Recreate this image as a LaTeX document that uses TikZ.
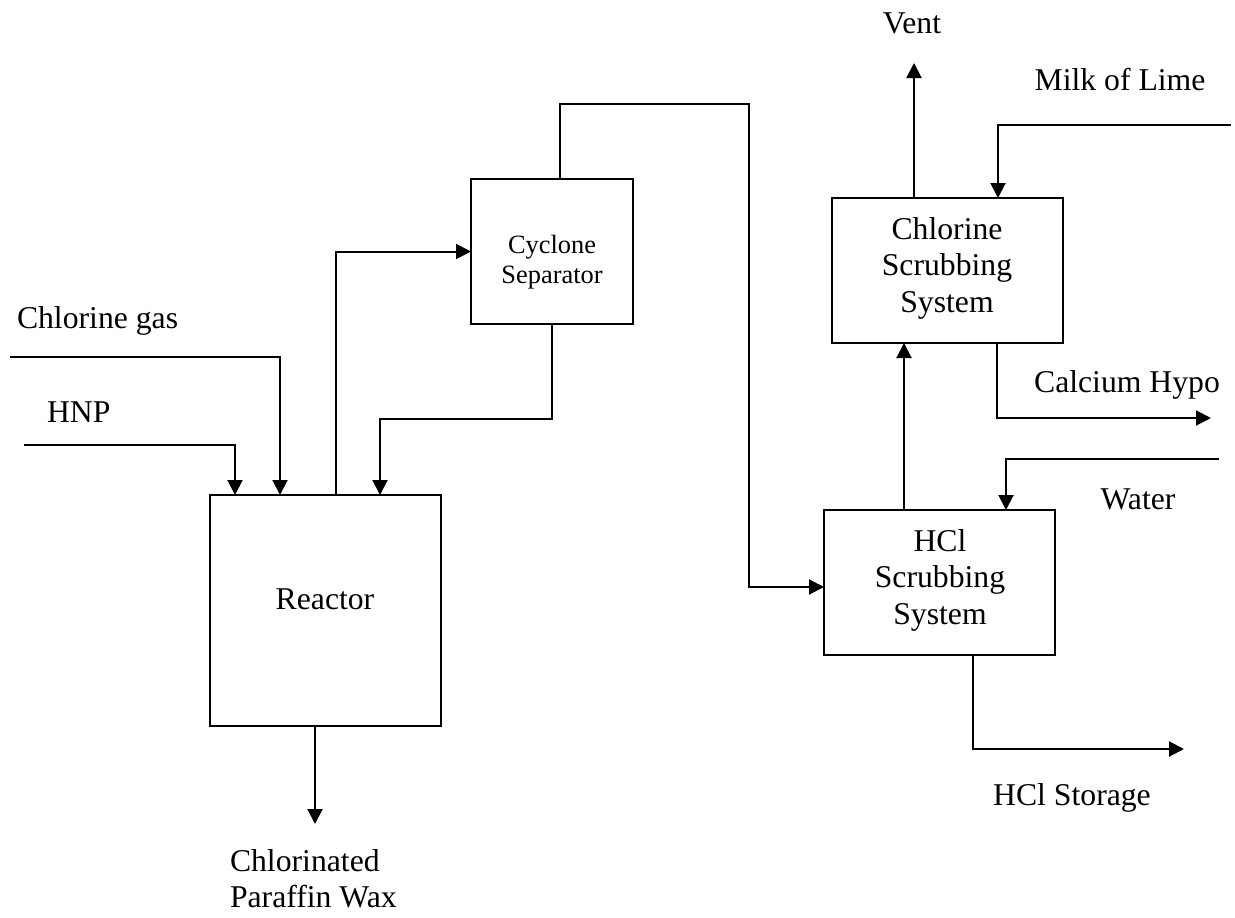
\documentclass[tikz,border=0pt]{standalone}
\usepackage{fontspec}
\setmainfont{Liberation Serif}
\usetikzlibrary{arrows.meta}
\begin{document}
\begin{tikzpicture}[x=1pt,y=-1pt,
  line width=2pt,
  box/.style={draw,rectangle,inner sep=0pt,outer sep=0pt,anchor=north west},
  lbl/.style={inner sep=0pt,anchor=base,font=\fontsize{31.7}{36.5}\selectfont},
  lblw/.style={inner sep=0pt,anchor=base west,font=\fontsize{31.7}{36.5}\selectfont},
  slbl/.style={inner sep=0pt,anchor=base,font=\fontsize{26.4}{28}\selectfont},
  arr/.style={-{Triangle[length=15pt,width=15pt]}}]
\useasboundingbox (0,0) rectangle (1235,918);

% boxes
\node[box,minimum width=231pt,minimum height=231pt] (reactor) at (210,495) {};
\node[box,minimum width=162pt,minimum height=145pt] (cyclone) at (471,179) {};
\node[box,minimum width=231pt,minimum height=145pt] (cl) at (832,198) {};
\node[box,minimum width=231pt,minimum height=145pt] (hcl) at (824,510) {};

% box texts
\node[lbl] (treactor) at (325,609) {Reactor};
\node[slbl] (tcyc1) at (552,253) {Cyclone};
\node[slbl] (tcyc2) at (552,283) {Separator};
\node[lbl] (tcl1) at (947,239) {Chlorine};
\node[lbl] (tcl2) at (947,275) {Scrubbing};
\node[lbl] (tcl3) at (947,312) {System};
\node[lbl] (thcl1) at (940,551) {HCl};
\node[lbl] (thcl2) at (940,587) {Scrubbing};
\node[lbl] (thcl3) at (940,624) {System};

% stream labels
\node[lblw] (tcg) at (16,328) {Chlorine gas};
\node[lblw] (thnp) at (46,422) {HNP};
\node[lbl] (tvent) at (912,33) {Vent};
\node[lbl] (tmilk) at (1120,90) {Milk of Lime};
\node[lbl] (tca) at (1127,392) {Calcium Hypo};
\node[lbl] (twater) at (1138,509) {Water};
\node[lbl] (tstore) at (1072,805) {HCl Storage};
\node[lblw] (tcpw1) at (229,871) {Chlorinated};
\node[lblw] (tcpw2) at (229,907) {Paraffin Wax};

% free ends
\coordinate (cgin) at (10,357);
\coordinate (hnpin) at (24,445);
\coordinate (cpwout) at (315,824);
\coordinate (ventout) at (914,63);
\coordinate (milkin) at (1231,125);
\coordinate (caout) at (1211,418);
\coordinate (waterin) at (1219,459);
\coordinate (storeout) at (1184,749);
\coordinate (topbend) at (749,104);
\coordinate (lowbend) at (749,587);

% connectors
\draw[arr] (hnpin) -| ([xshift=25pt]reactor.north west);
\draw[arr] (cgin) -| ([xshift=70pt]reactor.north west);
\draw[arr] ([xshift=126pt]reactor.north west) |- (cyclone.west);
\draw[arr] (cyclone.south) -- ++(0,95) -| ([xshift=170pt]reactor.north west);
\draw[arr] ([xshift=89pt]cyclone.north west) |- (topbend) -- (lowbend) -- (lowbend -| hcl.west);
\draw[arr] (reactor.south -| cpwout) -- (cpwout);
\draw[arr] ([xshift=80pt]hcl.north west) -- ([xshift=80pt]hcl.north west |- cl.south);
\draw[arr] (cl.north -| ventout) -- (ventout);
\draw[arr] (milkin) -| ([xshift=166pt]cl.north west);
\draw[arr] ([xshift=165pt]cl.south west) |- (caout);
\draw[arr] (waterin) -| ([xshift=182pt]hcl.north west);
\draw[arr] ([xshift=149pt]hcl.south west) |- (storeout);
\end{tikzpicture}
\end{document}
